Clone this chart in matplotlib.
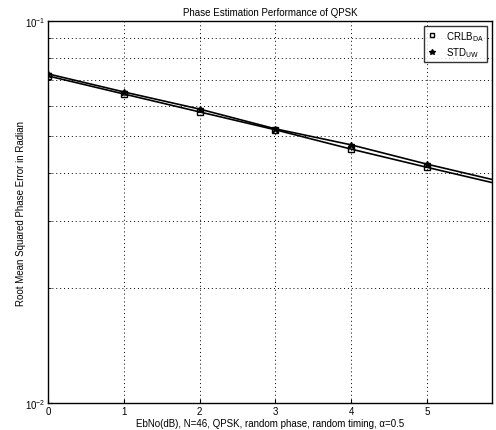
import matplotlib
matplotlib.use("Agg")
import matplotlib.pyplot as plt
from matplotlib.ticker import FixedLocator, NullFormatter

plt.rcParams['font.family'] = ['Liberation Sans', 'DejaVu Sans']

ebno = [0, 1, 2, 3, 4, 5, 6]
crlb = [0.0718, 0.0644, 0.0578, 0.0519, 0.0462, 0.0414, 0.0372]
std_uw = [0.0727, 0.0652, 0.0588, 0.0522, 0.0474, 0.0422, 0.0379]
xticks = [0, 1, 2, 3, 4, 5]

fig = plt.figure(figsize=(4.96, 4.31), dpi=100)
ax = fig.add_axes([0.097, 0.0626, 0.895, 0.8864])

ax.semilogy(ebno, crlb, color='black', lw=1.2, marker='s', ms=4, mfc='none', mec='black',
            label=r'CRLB$_{\mathrm{DA}}$')
ax.semilogy(ebno, std_uw, color='black', lw=1.2, marker='*', ms=5, label=r'STD$_{\mathrm{UW}}$')

ax.set_xlim(0, 5.86)
ax.set_ylim(0.01, 0.1)
ax.set_xticks(xticks)
ax.yaxis.set_major_locator(FixedLocator([0.01, 0.1]))
ax.yaxis.set_minor_locator(FixedLocator([0.02, 0.03, 0.04, 0.05, 0.06, 0.07, 0.08, 0.09]))
ax.yaxis.set_minor_formatter(NullFormatter())
ax.tick_params(direction='in', labelsize=7, length=3, pad=2)
ax.tick_params(which='minor', direction='in', length=2)
ax.grid(True, which='major', axis='x', ls=(0, (1, 3)), color='black', lw=0.7)
ax.grid(True, which='minor', axis='y', ls=(0, (1, 3)), color='black', lw=0.7)
for s in ax.spines.values():
    s.set_linewidth(1.0)

ax.set_title('Phase Estimation Performance of QPSK', fontsize=7, pad=4)
ax.set_xlabel('EbNo(dB), N=46, QPSK, random phase, random timing, α=0.5', fontsize=7, labelpad=1.5)
ax.set_ylabel('Root Mean Squared Phase Error in Radian', fontsize=7, labelpad=-1)

leg = ax.legend(loc='upper right', fontsize=7, frameon=True, fancybox=False, edgecolor='black',
                handlelength=1.0, borderaxespad=0.5, handletextpad=1.0, numpoints=1,
                labelspacing=0.3, borderpad=0.3, markerscale=0.8)
for h in leg.legend_handles:
    h.set_linestyle('none')
leg.get_frame().set_linewidth(1.0)

fig.savefig('out.png', dpi=100)
